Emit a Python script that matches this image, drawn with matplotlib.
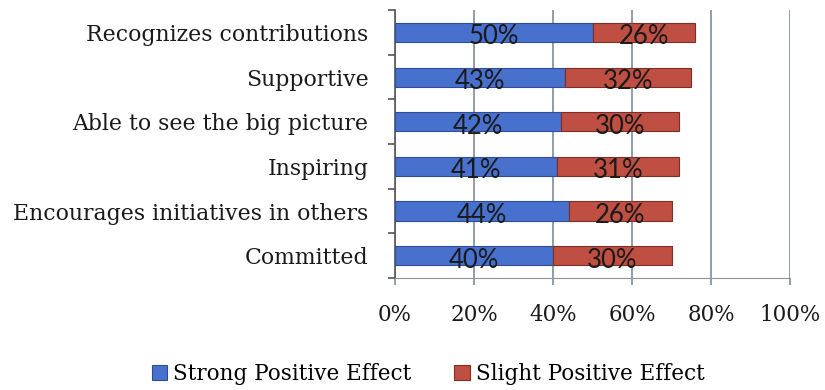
import matplotlib.pyplot as plt
import numpy as np

categories = ["Recognizes contributions", "Supportive", "Able to see the big picture",
              "Inspiring", "Encourages initiatives in others", "Committed"]
strong = [50, 43, 42, 41, 44, 40]
slight = [26, 32, 30, 31, 26, 30]
series_names = ["Strong Positive Effect", "Slight Positive Effect"]
xtick_labels = ["0%", "20%", "40%", "60%", "80%", "100%"]

serif = ["DejaVu Serif"]
sans = ["Lato", "DejaVu Sans"]

fig = plt.figure(figsize=(8.25, 3.9), dpi=100)
ax = fig.add_axes([0.4788, 0.287, 0.4788, 0.687])

y = np.arange(len(categories))[::-1]
blue, red = "#4870CD", "#BE4F42"
b1 = ax.barh(y, strong, height=0.43, color=blue, edgecolor="#2F4C99", linewidth=0.8,
             label=series_names[0], zorder=3)
b2 = ax.barh(y, slight, left=strong, height=0.43, color=red, edgecolor="#7E2E25",
             linewidth=0.8, label=series_names[1], zorder=3)

for vals, lefts in ((strong, [0] * len(strong)), (slight, strong)):
    for yi, v, l in zip(y, vals, lefts):
        ax.text(l + v / 2, yi - 0.1, f"{v}%", ha="center", va="center",
                fontsize=18.5, family=sans, color="#1a1a1a", zorder=4)

ax.set_xlim(0, 100)
ax.set_ylim(-0.5, len(categories) - 0.5)
ax.set_xticks(np.arange(0, 101, 20))
ax.set_xticklabels(xtick_labels, family=serif, fontsize=15.5, color="#1a1a1a")
ax.set_yticks(y)
ax.set_yticklabels(categories, family=serif, fontsize=15.8, color="#1a1a1a")
ax.set_yticks(np.arange(-0.5, len(categories), 1), minor=True)

grid_c = "#7E8E9C"
ax.xaxis.grid(True, color=grid_c, linewidth=1.2, zorder=1)
ax.tick_params(axis="x", length=5, color=grid_c, width=1.2, pad=14)
ax.tick_params(axis="y", which="major", length=0, pad=19)
ax.tick_params(axis="y", which="minor", length=5, color="#555555", width=1.2)
for s in ("top", "right"):
    ax.spines[s].set_visible(False)
ax.spines["left"].set_color("#555555")
ax.spines["left"].set_linewidth(1.2)
ax.spines["bottom"].set_color("#8A949C")
ax.spines["bottom"].set_linestyle((0, (2, 1)))

fig.legend(handles=[b1, b2], labels=series_names, loc="center", ncol=2,
           bbox_to_anchor=(0.519, 0.04), frameon=False, prop={"family": serif, "size": 15.5},
           handlelength=0.7, handleheight=0.7, handletextpad=0.3, columnspacing=2.0)

fig.savefig("out.png", dpi=100)
